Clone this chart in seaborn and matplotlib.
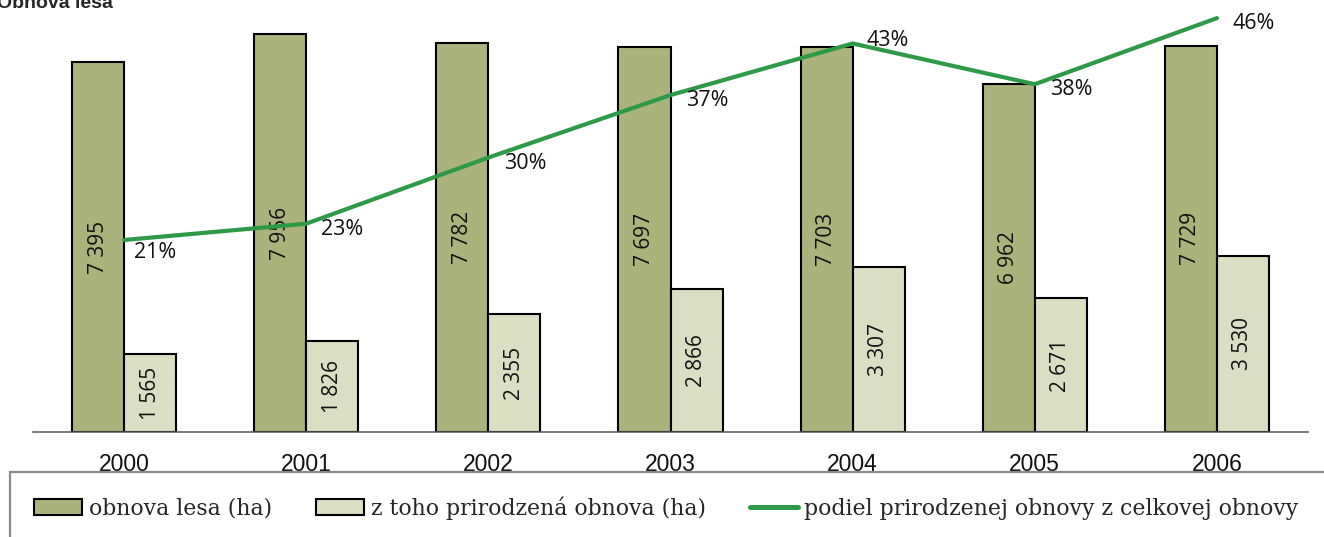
import numpy as np
import pandas as pd
import matplotlib.pyplot as plt
import seaborn as sns
from matplotlib.patches import Patch, Rectangle
from matplotlib.lines import Line2D

# hodnoty odcitane z grafu
years = ['2000', '2001', '2002', '2003', '2004', '2005', '2006']
obnova_lesa = [7395, 7956, 7782, 7697, 7703, 6962, 7729]
prirodzena = [1565, 1826, 2355, 2866, 3307, 2671, 3530]
podiel_pct = [21.2, 23.0, 30.3, 37.2, 42.9, 38.4, 45.7]

s_dark = 'obnova lesa (ha)'
s_light = 'z toho prirodzená obnova (ha)'
s_line = 'podiel prirodzenej obnovy z celkovej obnovy'

dark = '#abb37d'
light = '#dadec3'
green = '#2e9a47'

sns.set_style('white')
plt.rcParams['font.family'] = ['Open Sans', 'DejaVu Sans']

df = pd.DataFrame({
    'rok': years * 2,
    'ha': obnova_lesa + prirodzena,
    'serie': [s_dark] * len(years) + [s_light] * len(years),
})

fig = plt.figure(figsize=(13.24, 5.37), dpi=100)
ax = fig.add_axes([33 / 1324, 1 - 432 / 537, (1308 - 33) / 1324, 432 / 537])

sns.barplot(data=df, x='rok', y='ha', hue='serie', palette=[dark, light],
            saturation=1, width=0.572, gap=0, edgecolor='black', linewidth=1.5,
            legend=False, ax=ax)

for cont, vals in zip(ax.containers, [obnova_lesa, prirodzena]):
    ax.bar_label(cont, labels=[f'{v:,}'.replace(',', ' ') for v in vals],
                 label_type='center', rotation=90, fontsize=15, color='#111')

ax.set_xlim(-0.5, 6.5)
ax.set_ylim(0, 8640)
ax.set_xlabel('')
ax.set_ylabel('')
ax.set_yticks([])
for sp in ['top', 'left', 'right']:
    ax.spines[sp].set_visible(False)
ax.spines['bottom'].set_color('#555555')
ax.spines['bottom'].set_linewidth(1.1)

ax.set_xticks(range(len(years)))
ax.set_xticklabels(years, family='Liberation Sans', fontsize=16.5, color='#111')
ax.tick_params(axis='x', which='major', length=0, pad=15)
ax.set_xticks(np.arange(-0.5, 7, 1), minor=True)
ax.tick_params(axis='x', which='minor', direction='inout', length=10,
               width=1.0, color='#333333')

# podiel na druhej osi
ax2 = ax.twinx()
sns.lineplot(x=np.arange(len(years)), y=podiel_pct, color=green, linewidth=3,
             ax=ax2, legend=False)
ax2.set_ylim(0, 47.7)
ax2.set_yticks([])
for sp in ax2.spines.values():
    sp.set_visible(False)

nudge = {0: (7, -9), 4: (10, 2)}
for i, p in enumerate(podiel_pct):
    dx, dy = nudge.get(i, (11, -4))
    ax2.annotate(f'{round(p)}%', (i, p), xytext=(dx, dy), textcoords='offset points',
                 ha='left', va='center', fontsize=15.5, color='#111')

# nadpis (v originale orezany hore)
fig.text(-0.002, 1 - 8 / 537, 'Obnova lesa', family='Liberation Sans',
         fontweight='bold', fontsize=14, va='baseline', ha='left')

# legenda
box = Rectangle((10 / 1324, -0.1), 1.1, 1 - 472 / 537 + 0.1, transform=fig.transFigure,
                facecolor='none', edgecolor='#8a8a8a', linewidth=1.6, clip_on=False)
fig.patches.append(box)

handles = [
    Patch(facecolor=dark, edgecolor='black', linewidth=1.5),
    Patch(facecolor=light, edgecolor='black', linewidth=1.5),
    Line2D([0], [0], color=green, linewidth=3.6),
]
fig.legend(handles, [s_dark, s_light, s_line], loc='center left',
           bbox_to_anchor=(34 / 1324, 1 - 508 / 537), ncol=3, frameon=False,
           prop={'family': 'DejaVu Serif', 'size': 15.8},
           handlelength=2.2, handleheight=0.7, handletextpad=0.3,
           columnspacing=2.0, borderaxespad=0, borderpad=0)

fig.savefig('out.png', dpi=100)
